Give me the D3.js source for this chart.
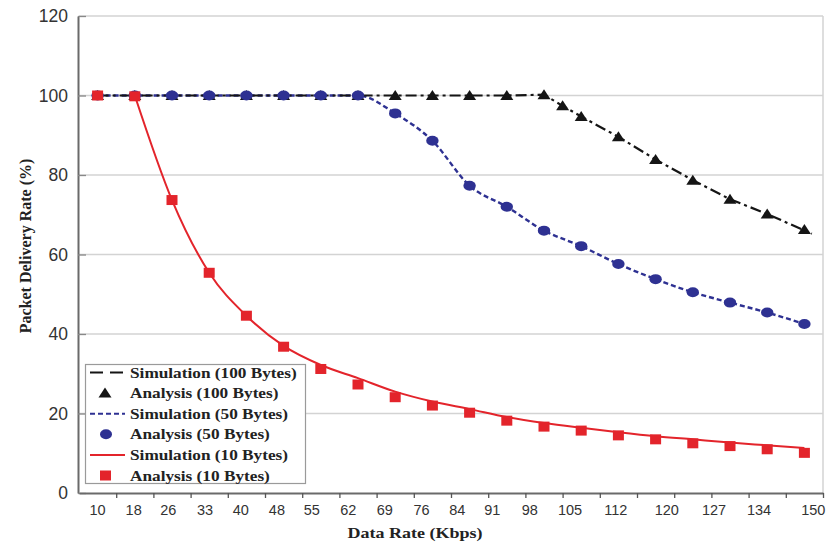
<!DOCTYPE html>
<html>
<head>
<meta charset="utf-8">
<script src="https://cdn.jsdelivr.net/npm/d3@7"></script>
<style>
  body { margin: 0; background: #fff; }
  svg { display: block; }
</style>
</head>
<body>
<div id="chart"></div>
<script>
// x axis: 20 equally spaced data-rate slots, labels sit where the original put them
const slots = [0, 1, 2, 3, 4, 5, 6, 7, 8, 9, 10, 11, 12, 13, 14, 15, 16, 17, 18, 19];
const xLabels = ["10", "18", "26", "33", "40", "48", "55", "62", "69", "76",
  "84", "91", "98", "105", "112", "120", "127", "134", "150"];
const xLabelSlots = [0, 0.97, 1.9, 2.89, 3.85, 4.82, 5.76, 6.74, 7.72, 8.71,
  9.67, 10.61, 11.62, 12.7, 13.93, 15.3, 16.57, 17.78, 19.24];
const yTicks = [0, 20, 40, 60, 80, 100, 120];

// 100 bytes (has one extra analysis point between slot 12 and 13)
const slots100 = [0, 1, 2, 3, 4, 5, 6, 7, 8, 9, 10, 11, 12, 12.5, 13, 14, 15, 16, 17, 18, 19];
const analysis100 = [100, 100, 100, 100, 100, 100, 100, 100, 100, 100, 100, 100, 100.2,
  97.4, 94.7, 89.6, 83.9, 78.7, 73.9, 70.2, 66.3];
const simSlots100 = [0, 1, 2, 3, 4, 5, 6, 7, 8, 9, 10, 11, 12, 12.5, 13, 14, 15, 16, 17, 18, 19.2];
const simulation100 = [100, 100, 100, 100, 100, 100, 100, 100, 100, 100, 100, 100, 100.2,
  97.4, 94.7, 89.6, 83.9, 78.7, 73.9, 70.2, 65.2];

// 50 bytes
const analysis50 = [100, 100, 100, 100, 100, 100, 100, 100, 95.5, 88.6,
  77.3, 72.0, 66.0, 62.1, 57.6, 53.8, 50.5, 47.9, 45.4, 42.5];
const simulation50 = [100, 100, 100, 100, 100, 100, 100, 100, 95.5, 88.6,
  77.3, 72.0, 66.0, 62.1, 57.6, 53.8, 50.5, 47.9, 45.4, 42.5];

// 10 bytes (the simulated curve starts at the second slot)
const analysis10 = [100, 99.8, 73.7, 55.4, 44.6, 36.8, 31.2, 27.3, 24.1, 22.0,
  20.2, 18.2, 16.7, 15.7, 14.5, 13.5, 12.5, 11.8, 11.0, 10.1];
const simSlots10 = [1, 2, 3, 4, 5, 6, 7, 8, 9, 10, 11, 12, 13, 14, 15, 16, 17, 18, 19];
const simulation10 = [100, 73.7, 55.4, 44.6, 37.0, 32.2, 28.9, 25.5, 23.0,
  21.1, 19.1, 17.6, 16.4, 15.3, 14.3, 13.5, 12.7, 12.0, 11.3];

const legendLabels = [
  "Simulation (100 Bytes)", "Analysis (100 Bytes)",
  "Simulation (50 Bytes)", "Analysis (50 Bytes)",
  "Simulation (10 Bytes)", "Analysis (10 Bytes)"
];

class DeliveryChart {
  constructor(_config) {
    this.config = {
      parentElement: _config.parentElement || "#chart",
      containerWidth: _config.containerWidth || 829,
      containerHeight: _config.containerHeight || 542,
      plot: { left: 79, right: 823, top: 16, bottom: 493 },
      red: "#e3242b",
      blue: "#2e3192",
      black: "#151515",
      serif: "'Liberation Serif', 'Times New Roman', serif",
      sans: "'Liberation Sans', Arial, sans-serif"
    };
    this.init();
  }

  init() {
    let vis = this;
    const p = vis.config.plot;
    vis.svg = d3.select(vis.config.parentElement)
      .append("svg")
      .attr("width", vis.config.containerWidth)
      .attr("height", vis.config.containerHeight);

    vis.x = d3.scaleLinear().domain([-0.5, 19.5]).range([p.left, p.right]);
    vis.y = d3.scaleLinear().domain([0, 120]).range([p.bottom, p.top]);
    this.update();
  }

  update() {
    let vis = this;
    const c = vis.config;
    const p = c.plot;

    // gridlines
    vis.svg.append("g")
      .selectAll("line")
      .data(yTicks.filter((d) => d > 0))
      .join("line")
      .attr("x1", p.left).attr("x2", p.right)
      .attr("y1", (d) => vis.y(d)).attr("y2", (d) => vis.y(d))
      .attr("stroke", "#d3d3d3")
      .attr("stroke-width", 1.3);

    // right border
    vis.svg.append("line")
      .attr("x1", p.right).attr("x2", p.right)
      .attr("y1", p.top).attr("y2", p.bottom)
      .attr("stroke", "#d3d3d3")
      .attr("stroke-width", 1.5);

    // y axis (ticks point into the plot)
    const yAxis = vis.svg.append("g")
      .attr("transform", `translate(${p.left - 1},0)`)
      .call(d3.axisLeft(vis.y).tickValues(yTicks).tickSize(-8).tickPadding(10).tickSizeOuter(0));
    yAxis.select(".domain").attr("stroke", "#6a6a6a").attr("stroke-width", 2);
    yAxis.selectAll(".tick line").attr("stroke", "#888").attr("stroke-width", 1.3);
    yAxis.selectAll(".tick text")
      .attr("font-family", c.sans)
      .attr("font-size", 17.5)
      .attr("fill", "#333");

    // x axis: ticks on slot boundaries, labels at their own slots
    const xAxis = vis.svg.append("g")
      .attr("transform", `translate(0,${p.bottom})`)
      .call(d3.axisBottom(vis.x)
        .tickValues(d3.range(0.5, 20, 1))
        .tickSize(5)
        .tickFormat("")
        .tickSizeOuter(0));
    xAxis.select(".domain").attr("stroke", "#6a6a6a").attr("stroke-width", 2);
    xAxis.selectAll(".tick line").attr("stroke", "#555").attr("stroke-width", 1.3);

    vis.svg.append("g")
      .selectAll("text")
      .data(xLabels)
      .join("text")
      .attr("x", (d, i) => vis.x(xLabelSlots[i]))
      .attr("y", p.bottom + 22)
      .attr("text-anchor", "middle")
      .attr("font-family", c.sans)
      .attr("font-size", 14.5)
      .attr("fill", "#333")
      .text((d) => d);

    // lines
    const monotone = (xs, ys) => d3.line()
      .x((d, i) => vis.x(xs[i]))
      .y((d) => vis.y(d))
      .curve(d3.curveMonotoneX)(ys);

    vis.svg.append("path")
      .attr("d", monotone(simSlots10, simulation10))
      .attr("fill", "none")
      .attr("stroke", c.red)
      .attr("stroke-width", 2);

    vis.svg.append("path")
      .attr("d", monotone(slots, simulation50))
      .attr("fill", "none")
      .attr("stroke", c.blue)
      .attr("stroke-width", 2.4)
      .attr("stroke-dasharray", "5,3");

    vis.svg.append("path")
      .attr("d", d3.line()
        .x((d, i) => vis.x(simSlots100[i]))
        .y((d) => vis.y(d))(simulation100))
      .attr("fill", "none")
      .attr("stroke", c.black)
      .attr("stroke-width", 2.2)
      .attr("stroke-dasharray", "11,4,3,4");

    // markers
    const tri = (x, y) => `M${x - 6.5},${y + 4.5}L${x},${y - 5.5}L${x + 6.5},${y + 4.5}Z`;

    vis.svg.append("g")
      .selectAll("path")
      .data(analysis100)
      .join("path")
      .attr("d", (d, i) => tri(vis.x(slots100[i]), vis.y(d)))
      .attr("fill", c.black);

    vis.svg.append("g")
      .selectAll("ellipse")
      .data(analysis50)
      .join("ellipse")
      .attr("cx", (d, i) => vis.x(slots[i]))
      .attr("cy", (d) => vis.y(d))
      .attr("rx", 6.2)
      .attr("ry", 5)
      .attr("fill", c.blue);

    vis.svg.append("g")
      .selectAll("rect")
      .data(analysis10)
      .join("rect")
      .attr("x", (d, i) => vis.x(slots[i]) - 5.5)
      .attr("y", (d) => vis.y(d) - 5)
      .attr("width", 11)
      .attr("height", 10)
      .attr("fill", c.red);

    // legend
    const lg = vis.svg.append("g");
    lg.append("rect")
      .attr("x", 85.5).attr("y", 364.5)
      .attr("width", 220).attr("height", 119)
      .attr("fill", "#fff")
      .attr("stroke", "#9a9a9a")
      .attr("stroke-width", 1.2);

    const rowY = (i) => 372.5 + i * 20.6;
    const lineRows = [
      { i: 0, color: c.black, dash: "13,7", w: 2.2 },
      { i: 2, color: c.blue, dash: "5,3", w: 2 },
      { i: 4, color: c.red, dash: null, w: 2 }
    ];
    lineRows.forEach((r) => {
      lg.append("line")
        .attr("x1", 90).attr("x2", 125)
        .attr("y1", rowY(r.i)).attr("y2", rowY(r.i))
        .attr("stroke", r.color)
        .attr("stroke-width", r.w)
        .attr("stroke-dasharray", r.dash);
    });
    lg.append("path").attr("d", tri(105, rowY(1))).attr("fill", c.black);
    lg.append("ellipse")
      .attr("cx", 106).attr("cy", rowY(3))
      .attr("rx", 6).attr("ry", 5)
      .attr("fill", c.blue);
    lg.append("rect")
      .attr("x", 100).attr("y", rowY(5) - 5)
      .attr("width", 11).attr("height", 10)
      .attr("fill", c.red);

    lg.selectAll("text")
      .data(legendLabels)
      .join("text")
      .attr("transform", (d, i) => `translate(130,${rowY(i) + 5}) scale(1.15,1)`)
      .attr("font-family", c.serif)
      .attr("font-weight", "bold")
      .attr("font-size", 15)
      .attr("fill", "#222")
      .text((d) => d);

    // axis titles
    vis.svg.append("text")
      .attr("transform", "translate(31,246) rotate(-90)")
      .attr("text-anchor", "middle")
      .attr("font-family", c.serif)
      .attr("font-weight", "bold")
      .attr("font-size", 16)
      .attr("fill", "#222")
      .text("Packet Delivery Rate (%)");

    vis.svg.append("text")
      .attr("transform", "translate(415,538) scale(1.2,1)")
      .attr("text-anchor", "middle")
      .attr("font-family", c.serif)
      .attr("font-weight", "bold")
      .attr("font-size", 15)
      .attr("fill", "#222")
      .text("Data Rate (Kbps)");
  }
}

new DeliveryChart({ parentElement: "#chart" });
</script>
</body>
</html>
